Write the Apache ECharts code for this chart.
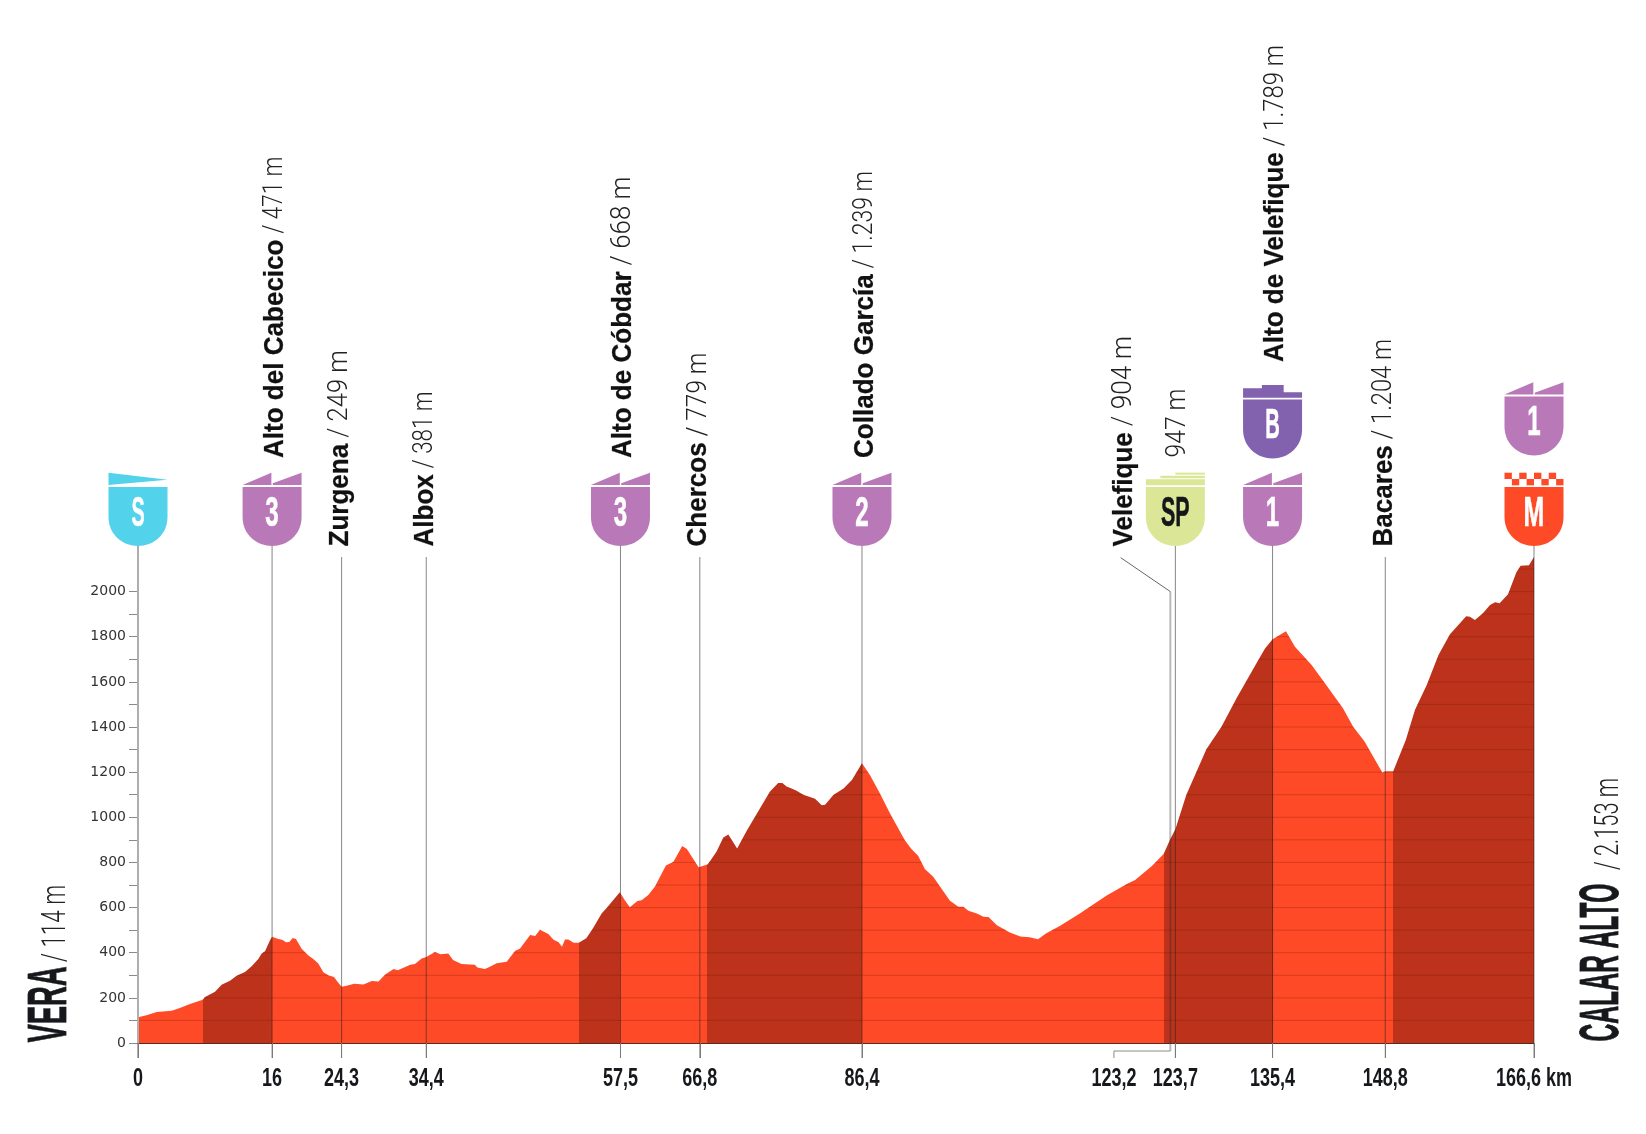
<!DOCTYPE html>
<html>
<head>
<meta charset="utf-8">
<style>html,body{margin:0;padding:0;background:#fff}#c{width:1646px;height:1134px}</style>
<script src="https://cdn.jsdelivr.net/npm/echarts@6/dist/echarts.min.js"></script>
</head>
<body>
<div id="c"></div>
<script>
// ---------- data ----------
const profileKm = [0,1.03,2.23,4.02,5,6.2,7.72,8,9.19,9.98,10.98,11.77,12.77,13.56,14.36,14.76,15.16,15.75,16,16.74,17.2,17.66,18.06,18.46,18.85,19.53,20.33,20.92,21.52,22.12,22.71,23.39,23.79,24.3,24.9,25.8,26.9,27.9,28.7,29.5,30.5,31,32.5,33.05,33.85,34.4,35.44,36.1,37.03,37.6,38.6,40.2,40.5,41.4,42,42.8,44,44.99,45.6,46.8,47.4,47.97,48.97,49.56,50.2,50.6,50.96,51.35,52,52.6,53.5,54.3,55.33,55.9,56.7,57.5,58.1,58.7,59.6,60.1,60.9,61.7,63,63.9,64.95,65.5,66.9,67.95,68.3,69.05,69.85,70.45,71.5,72.63,75.4,76.4,76.9,77.4,78,78.6,79.4,80.8,81.6,82,82.98,84.2,85.2,86.4,87.35,88.5,89.75,91.5,92.3,93.1,93.9,94.9,96.9,97.9,98.5,99.1,100.1,100.9,101.5,102.5,104.05,105.3,106.4,107.4,108.4,110,112.4,115.6,116.6,118,119,121,122.4,123.2,123.8,125.1,127.5,129.3,131.1,133.7,134.5,135.4,137,138.07,140.06,141.65,143.8,145,146.4,147.4,148.5,148.85,149.8,151.3,152.4,153.8,155.2,156.57,157.57,158.5,158.95,159.55,160.5,161.35,161.95,162.5,163.5,164.5,165,166,166.6];
const profileElev = [114,123,137,143,155,173,192,204,227,258,276,298,315,340,372,396,406,455,471,461,458,446,447,465,461,418,388,372,352,313,300,292,273,249,254,263,259,275,273,303,328,322,347,350,374,381,403,393,397,368,350,347,335,328,338,353,360,408,419,478,474,502,483,459,446,427,459,459,444,444,464,508,574,597,633,668,633,602,629,632,656,693,786,803,873,859,779,791,808,848,910,924,862,939,1113,1152,1152,1136,1128,1118,1100,1082,1053,1056,1099,1128,1165,1239,1187,1109,1017,899,859,830,771,737,630,604,604,586,574,559,558,522,490,472,469,460,486,518,574,653,675,704,722,784,837,904,947,1099,1302,1401,1527,1697,1748,1789,1824,1756,1675,1594,1483,1402,1335,1269,1198,1204,1204,1343,1476,1586,1719,1811,1852,1891,1889,1874,1904,1941,1953,1948,1988,2086,2114,2117,2153];
const climbStart = [7.74,52.6,67.96,122.4,149.8];
const climbEnd   = [16,57.58,86.4,135.4,166.6];
const stopKm     = [0,16,24.3,34.4,57.58,67.05,86.4,123.8,135.4,148.85,166.6];
const stopLabels = ['0','16','24,3','34,4','57,5','66,8','86,4','123,7','135,4','148,8','166,6 km'];
const elevTicks  = [0,100,200,300,400,500,600,700,800,900,1000,1100,1200,1300,1400,1500,1600,1700,1800,1900,2000];
const elevLabels = [0,200,400,600,800,1000,1200,1400,1600,1800,2000];
const gridLevels = [100,200,300,400,500,600,700,800,900,1000,1100,1200,1300,1400,1500,1600,1700,1800,1900,2000,2100];
const placeKm    = [16,24.3,34.4,57.58,67.05,86.4,123.2,123.8,135.4,148.85];
const placeNames = ['Alto del Cabecico','Zurgena','Albox','Alto de Cóbdar','Chercos','Collado García','Velefique','','Alto de Velefique','Bacares'];
const placeAlts  = ['/ 471 m','/ 249 m','/ 381 m','/ 668 m','/ 779 m','/ 1.239 m','/ 904 m','947 m','/ 1.789 m','/ 1.204 m'];
const shieldKm   = [0,16,57.58,86.4,123.8,135.4,135.4,166.6,166.6];
const shieldText = ['S','3','3','2','SP','1','B','M','1'];
const shieldKind = ['start','climb','climb','climb','sprint','climb','bonus','finish','climb'];
const shieldLift = [0,0,0,0,0,0,1,0,1];
const startName = 'VERA', startAlt = '/ 114 m';
const finishName = 'CALAR ALTO', finishAlt = '/ 2.153 m';
const leaderKm = 123.2, leaderLabel = '123,2';

// ---------- style ----------
const ORANGE='#FE4A27', DARK='#BC321B', INK='#111111';
const BOLD='700 28px "Liberation Sans"', LIGHT='300 28px Roboto';
const HEAVY='"Liberation Sans"';
const fillOf={start:'#53D2EB',climb:'#B979B8',sprint:'#DBE796',bonus:'#8261AF',finish:ORANGE};
const glyphScale={S:0.46,B:0.47,SP:0.5,M:0.58};
// layout: where each rotated label ends at the top of the page, by label position
const labelTopPx=[156.5,350,391.5,176.5,352.5,171,336,388.5,45,339];

const chart=echarts.init(document.getElementById('c'),null,{renderer:'canvas'});
const BASE=1043, PX_M=0.2257;
const gridTop=BASE-2200*PX_M;
const measure=document.createElement('canvas').getContext('2d');
const widthOf=(t,f)=>{measure.font=f;return measure.measureText(t).width;};

const pieces=[];
let last=0;
climbStart.forEach((s,i)=>{
  pieces.push({gte:last,lt:s,color:ORANGE});
  pieces.push({gte:s,lt:climbEnd[i]+(i===climbStart.length-1?1:0),color:DARK});
  last=climbEnd[i];
});

const T=(x,y,text,font,fill,o,stroke)=>Object.assign({type:'text',x,y,silent:true,
  style:{text,font,fill,align:'center',verticalAlign:'middle',stroke:stroke||null,lineWidth:stroke?0.6:0}},o||{});

function shield(c,kind,label,lift){
  const dy=lift?(kind==='bonus'?-87.5:-90.5):0, fill=fillOf[kind], L=c-29.5, R=c+29.5, kids=[];
  const poly=pts=>({type:'polygon',shape:{points:pts.map(q=>[q[0],q[1]+dy])},style:{fill}});
  kids.push({type:'path',shape:{pathData:
    `M${L} ${487}H${R}V${517}C${R} ${535} ${c+15} ${546} ${c} ${546}C${c-15} ${546} ${L} ${535} ${L} ${517}Z`,
    layout:'cover',x:L,y:487+dy,width:59,height:59},style:{fill}});
  if(kind==='start'){
    kids.push(poly([[L,472.7],[R,479.7],[L,485]]));
  }else if(kind==='climb'){
    kids.push(poly([[L,485],[c-0.7,472.7],[c-0.7,485]]));
    kids.push(poly([[c+0.7,483.3],[R,472.7],[R,485],[c+0.7,485]]));
  }else if(kind==='bonus'){
    kids.push(poly([[L,475.8],[c-10.7,475.8],[c-10.7,472.5],[c+11.1,472.5],[c+11.1,479.8],[R,479.8],[R,485.2],[L,485.2]]));
  }else if(kind==='sprint'){
    kids.push({type:'rect',shape:{x:c,y:472.6,width:29.5,height:2},style:{fill}});
    kids.push({type:'rect',shape:{x:c-15,y:475.8,width:44.5,height:2.4},style:{fill}});
    kids.push({type:'rect',shape:{x:L,y:479.3,width:59,height:6},style:{fill}});
  }else if(kind==='finish'){
    for(let r=0;r<2;r++)for(let k=0;k<8;k++)if((r+k)%2===0)
      kids.push({type:'rect',shape:{x:L+k*7.375,y:472.7+r*6.3,width:7.375,height:6.3},style:{fill}});
  }
  const col=kind==='sprint'?'#14161a':'#fff';
  kids.push(T(c,514+dy,label,`700 43px ${HEAVY}`,col,{scaleX:glyphScale[label]||0.56},col));
  return {type:'group',children:kids};
}

const option={
  animation:false,
  backgroundColor:'#fff',
  grid:{left:138,right:112,top:gridTop,bottom:1134-BASE,containLabel:false},
  xAxis:{type:'value',min:0,max:166.6,z:10,
    axisLine:{show:true,onZero:false,lineStyle:{color:'#5b2a1c',width:1.2}},
    axisTick:{show:true,customValues:stopKm,length:15,lineStyle:{color:'#7a7a7a',width:1}},
    splitLine:{show:false},axisLabel:{show:false}},
  yAxis:{type:'value',min:0,max:2200,
    axisLine:{show:true,lineStyle:{color:'#aeaeae',width:2}},
    axisTick:{show:true,customValues:elevTicks,length:9,lineStyle:{color:'#8a8a8a',width:1}},
    splitLine:{show:false},
    axisLabel:{show:true,customValues:elevLabels,margin:12,color:'#333',fontFamily:'"DejaVu Sans"',fontSize:14,formatter:v=>String(v)}},
  visualMap:{show:false,type:'piecewise',dimension:0,seriesIndex:0,pieces},
  series:[
    {type:'line',name:'profile',data:profileKm.map((k,i)=>[k,profileElev[i]]),
      symbol:'none',silent:true,smooth:false,z:2,lineStyle:{width:0},areaStyle:{opacity:1}},
    {type:'custom',name:'levels',silent:true,z:3,clip:false,data:gridLevels.map(l=>[0,l]),
      renderItem(p,api){
        const lvl=api.value(1), kids=[];
        let from=null;
        for(let i=0;i<profileKm.length;i++){
          const e=profileElev[i];
          if(e>=lvl&&from===null){
            from=i===0?profileKm[0]:profileKm[i-1]+(lvl-profileElev[i-1])/(e-profileElev[i-1])*(profileKm[i]-profileKm[i-1]);
          }
          if(from!==null&&(e<lvl||i===profileKm.length-1)){
            const to=e<lvl?profileKm[i-1]+(profileElev[i-1]-lvl)/(profileElev[i-1]-e)*(profileKm[i]-profileKm[i-1]):profileKm[i];
            const a=api.coord([from,lvl]),b=api.coord([to,lvl]);
            kids.push({type:'line',shape:{x1:a[0],y1:a[1],x2:b[0],y2:b[1]},style:{stroke:'rgba(110,25,5,0.28)',lineWidth:1}});
            from=null;
          }
        }
        return {type:'group',children:kids};
      }},
    {type:'custom',name:'stops',silent:true,z:4,clip:false,data:stopKm.map((k,i)=>[k,i]),
      renderItem(p,api){
        const k=api.value(0),i=api.value(1),c=api.coord([k,0]);
        const top=shieldKm.includes(k)?546:557;
        return {type:'group',children:[
          {type:'line',shape:{x1:c[0],y1:top,x2:c[0],y2:c[1]+15},
            style:{stroke:k===0?'#aeaeae':'rgba(35,35,35,0.55)',lineWidth:k===0?2:1}},
          T(c[0],1079,stopLabels[i],`700 25px ${HEAVY}`,'#16181c',{scaleX:0.72})
        ]};
      }},
    {type:'custom',name:'leader',silent:true,z:4,clip:false,data:[[leaderKm,0]],
      renderItem(p,api){
        const c=api.coord([api.value(0),0]),x=c[0],left=x-56.4;
        return {type:'group',children:[
          {type:'line',shape:{x1:x,y1:591.6,x2:x,y2:1051},style:{stroke:'rgba(40,40,40,0.32)',lineWidth:2}},
          {type:'polyline',shape:{points:[[x,591.6],[x-49.6,557.7]]},style:{stroke:'#666',lineWidth:1,fill:null}},
          {type:'polyline',shape:{points:[[x,1051],[left,1051],[left,1058]]},style:{stroke:'#8a8a8a',lineWidth:1,fill:null}},
          T(left,1079,leaderLabel,`700 25px ${HEAVY}`,'#16181c',{scaleX:0.72})
        ]};
      }},
    {type:'custom',name:'shields',silent:true,z:5,clip:false,data:shieldKm.map((k,i)=>[k,i]),
      renderItem(p,api){
        const i=api.value(1),c=api.coord([api.value(0),0])[0];
        return shield(c,shieldKind[i],shieldText[i],shieldLift[i]);
      }},
    {type:'custom',name:'places',silent:true,z:6,clip:false,data:placeKm.map((k,i)=>[k,i]),
      renderItem(p,api){
        const i=api.value(1),c=api.coord([api.value(0),0])[0];
        const name=placeNames[i];
        const tall={'Alto del Cabecico':458,'Alto de Cóbdar':458,'Collado García':458,'Alto de Velefique':362}[name];
        const y=name===''?457.5:(tall||546.5);
        const off=name===''?10:(tall?10.5:6.2);
        const xb=name==='Velefique'?1131.4:c+off;
        const boldScale=0.93, kids=[];
        const shared={rotation:Math.PI/2,silent:true};
        let yy=y;
        if(name){
          kids.push(Object.assign({type:'text',x:xb+6.5,y:yy,scaleX:boldScale,
            style:{text:name,font:BOLD,fill:INK,align:'left',verticalAlign:'bottom',stroke:INK,lineWidth:0.25}},shared));
          yy-=widthOf(name,BOLD)*boldScale+6;
        }
        const lightScale=(yy-labelTopPx[i])/widthOf(placeAlts[i],LIGHT);
        kids.push(Object.assign({type:'text',x:xb+6.5,y:yy,scaleX:lightScale,
          style:{text:placeAlts[i],font:LIGHT,fill:'#222',align:'left',verticalAlign:'bottom'}},shared));
        return {type:'group',children:kids};
      }},
    {type:'custom',name:'ends',silent:true,z:6,clip:false,data:[[0,0],[166.6,1]],
      renderItem(p,api){
        const first=api.value(1)===0;
        const x=first?67.5:1620;
        const y1=first?1042.6:1041.5, y2=first?962:870;
        const name=first?startName:finishName, alt=first?startAlt:finishAlt;
        return {type:'group',children:[
          {type:'text',x:x+11,y:y1,rotation:Math.PI/2,scaleX:first?0.49:0.44,silent:true,
            style:{text:name,font:`700 56px ${HEAVY}`,fill:'#16181c',align:'left',verticalAlign:'bottom',stroke:'#16181c',lineWidth:0.8}},
          {type:'text',x:x+6,y:y2,rotation:Math.PI/2,scaleX:first?0.68:0.66,silent:true,
            style:{text:alt,font:'300 33px Roboto',fill:'#222',align:'left',verticalAlign:'bottom'}}
        ]};
      }}
  ]
};
chart.setOption(option);
</script>
</body>
</html>
